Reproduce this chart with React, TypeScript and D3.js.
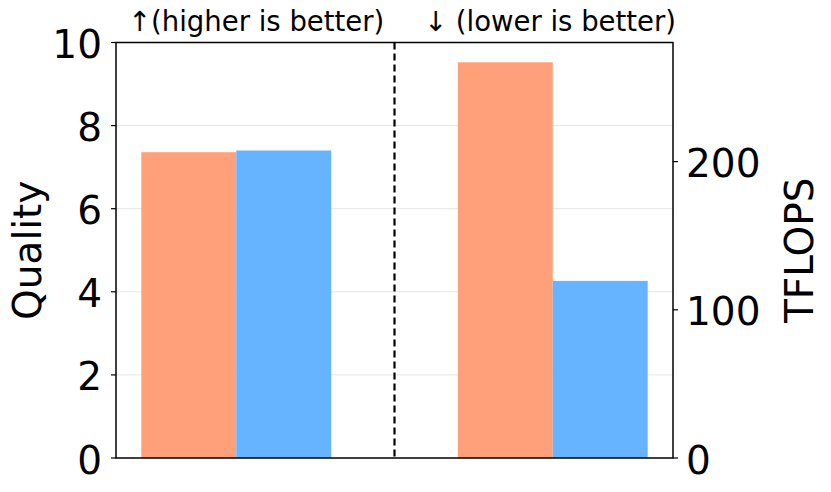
import React from "react";
import * as d3 from "d3";

const groups = [0, 1];
const seriesNames = ["Baseline", "Ours"];
const colors = ["#FFA07A", "#66B3FF"];
const qualityValues = [7.36, 7.4];
const tflopsValues = [267, 119.5];
const leftTicks = [0, 2, 4, 6, 8, 10];
const rightTicks = [0, 100, 200];
const topLabels = ["↑(higher is better)", "↓ (lower is better)"];
const leftLabel = "Quality";
const rightLabel = "TFLOPS";

const W = 831;
const H = 492;
const plot = { left: 116, right: 673, top: 42.5, bottom: 458 };
const barW = 0.3;
const font = "'DejaVu Sans', sans-serif";

export default function App() {
  const x = d3.scaleLinear().domain([-0.38, 1.38]).range([plot.left, plot.right]);
  const yL = d3.scaleLinear().domain([0, 10]).range([plot.bottom, plot.top]);
  const yR = d3
    .scaleLinear()
    .domain([0, (d3.max(tflopsValues) as number) * 1.05])
    .range([plot.bottom, plot.top]);

  const bars: { x0: number; x1: number; y: number; color: string; key: string }[] = [];
  qualityValues.forEach((v, s) => {
    bars.push({
      key: `q${s}`,
      x0: x(groups[0] - barW + s * barW),
      x1: x(groups[0] + s * barW),
      y: yL(v),
      color: colors[s],
    });
  });
  tflopsValues.forEach((v, s) => {
    bars.push({
      key: `t${s}`,
      x0: x(groups[1] - barW + s * barW),
      x1: x(groups[1] + s * barW),
      y: yR(v),
      color: colors[s],
    });
  });
  const midX = x((groups[0] + groups[1]) / 2);

  return (
    <svg
      width={W}
      height={H}
      style={{ position: "absolute", left: 0, top: 0, background: "#fff" }}
      fontFamily={font}
    >
      {leftTicks
        .filter((t) => t > 0 && t < 10)
        .map((t) => (
          <line
            key={`g${t}`}
            x1={plot.left}
            x2={plot.right}
            y1={yL(t)}
            y2={yL(t)}
            stroke="#e6e6e6"
            strokeWidth={1}
          />
        ))}
      {bars.map((b) => (
        <rect
          key={b.key}
          x={b.x0}
          y={b.y}
          width={b.x1 - b.x0}
          height={plot.bottom - b.y}
          fill={b.color}
        />
      ))}
      <line
        x1={midX}
        x2={midX}
        y1={plot.top}
        y2={plot.bottom}
        stroke="#000"
        strokeWidth={2.2}
        strokeDasharray="7,4"
      />
      <rect
        x={plot.left}
        y={plot.top}
        width={plot.right - plot.left}
        height={plot.bottom - plot.top}
        fill="none"
        stroke="#000"
        strokeWidth={1.5}
      />
      {leftTicks.map((t) => (
        <g key={`lt${t}`}>
          <line x1={plot.left - 5} x2={plot.left} y1={yL(t)} y2={yL(t)} stroke="#000" strokeWidth={1.2} />
          <text x={plot.left - 14} y={yL(t) + 15.5} textAnchor="end" fontSize={39} fill="#000">
            {t}
          </text>
        </g>
      ))}
      {rightTicks.map((t) => (
        <g key={`rt${t}`}>
          <line x1={plot.right} x2={plot.right + 5} y1={yR(t)} y2={yR(t)} stroke="#000" strokeWidth={1.2} />
          <text x={plot.right + 13} y={yR(t) + 15.5} textAnchor="start" fontSize={39} fill="#000">
            {t}
          </text>
        </g>
      ))}
      <text
        transform={`translate(41,${(plot.top + plot.bottom) / 2}) rotate(-90)`}
        textAnchor="middle"
        fontSize={39}
        fill="#000"
      >
        {leftLabel}
      </text>
      <text
        transform={`translate(813,${(plot.top + plot.bottom) / 2}) rotate(-90)`}
        textAnchor="middle"
        fontSize={39}
        fill="#000"
      >
        {rightLabel}
      </text>
      <text x={128} y={31} fontSize={27.5} fill="#000">
        {topLabels[0]}
      </text>
      <text x={424} y={31} fontSize={27.5} fill="#000">
        {topLabels[1]}
      </text>
    </svg>
  );
}
